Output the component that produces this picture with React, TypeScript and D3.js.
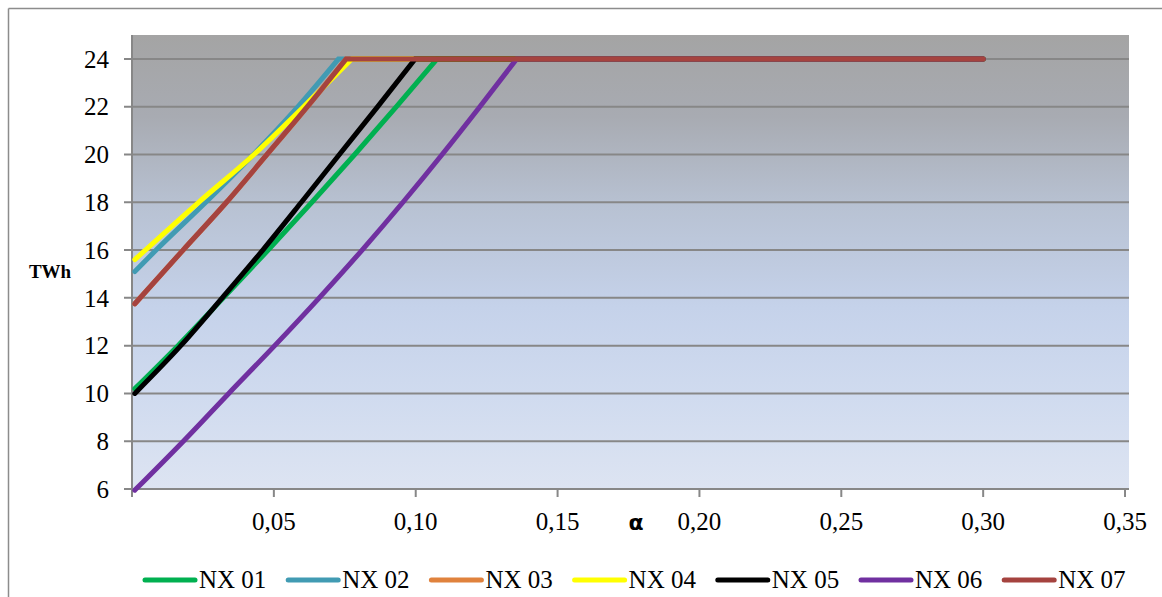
import React from "react";
import * as d3 from "d3";

const seriesNames = ["NX 01", "NX 02", "NX 03", "NX 04", "NX 05", "NX 06", "NX 07"];
const seriesColors = ["#00B050", "#419BB3", "#E0823D", "#FFFF00", "#000000", "#7030A0", "#A5433F"];

// alpha values and TWh values per series (rising part up to saturation at 24)
const nx01Alpha = [0.001, 0.0162, 0.0322, 0.048, 0.0634, 0.0785, 0.0932, 0.1075];
const nx01TWh = [10.2, 12, 14, 16, 18, 20, 22, 24];
const nx02Alpha = [0.001, 0.0085, 0.026, 0.0428, 0.0585, 0.0728];
const nx02TWh = [15.1, 16, 18, 20, 22, 24];
const nx03Alpha = [0.001, 0.018, 0.0333, 0.0476, 0.0618, 0.0755];
const nx03TWh = [13.75, 16, 18, 20, 22, 24];
const nx04Alpha = [0.001, 0.0235, 0.043, 0.0605, 0.0775];
const nx04TWh = [15.6, 18, 20, 22, 24];
const nx05Alpha = [0.001, 0.0172, 0.0318, 0.0461, 0.0597, 0.0731, 0.0866, 0.0998];
const nx05TWh = [10.0, 12, 14, 16, 18, 20, 22, 24];
const nx06Alpha = [0.001, 0.0181, 0.0341, 0.0503, 0.066, 0.0811, 0.0955, 0.1093, 0.1226, 0.1356];
const nx06TWh = [5.95, 8, 10, 12, 14, 16, 18, 20, 22, 24];
const nx07Alpha = [0.001, 0.018, 0.0333, 0.0476, 0.0618, 0.0755];
const nx07TWh = [13.75, 16, 18, 20, 22, 24];
// every series stays at the cap until this alpha
const capAlpha = 0.30;
const capTWh = 24;

const xTicks = [0.05, 0.10, 0.15, 0.20, 0.25, 0.30, 0.35];
const yTicks = [6, 8, 10, 12, 14, 16, 18, 20, 22, 24];

const allAlpha = [nx01Alpha, nx02Alpha, nx03Alpha, nx04Alpha, nx05Alpha, nx06Alpha, nx07Alpha];
const allTWh = [nx01TWh, nx02TWh, nx03TWh, nx04TWh, nx05TWh, nx06TWh, nx07TWh];

const W = 1162;
const H = 597;
const plot = { left: 132, right: 1129, top: 35, bottom: 489 };
const serif = "Liberation Serif, Times New Roman, serif";

export default function App() {
  const x = d3.scaleLinear().domain([0, 0.3514]).range([plot.left, plot.right]);
  const y = d3.scaleLinear().domain([6, 25]).range([plot.bottom, plot.top]);
  const rising = d3
    .line<[number, number]>()
    .x((d) => x(d[0]))
    .y((d) => y(d[1]))
    .curve(d3.curveMonotoneX);
  const fmt = (v: number) => d3.format(".2f")(v).replace(".", ",");
  const legendStart = 143;
  const legendStep = 143.2;

  return (
    <svg
      width={W}
      height={H}
      style={{ position: "absolute", left: 0, top: 0 }}
      xmlns="http://www.w3.org/2000/svg"
    >
      <defs>
        <linearGradient id="bg" x1="0" y1="0" x2="0" y2="1">
          <stop offset="0%" stopColor="#a4a4a4" />
          <stop offset="18%" stopColor="#a8abb2" />
          <stop offset="38%" stopColor="#b8c2d3" />
          <stop offset="60%" stopColor="#c5d2ea" />
          <stop offset="80%" stopColor="#d0dbef" />
          <stop offset="100%" stopColor="#dde4f2" />
        </linearGradient>
      </defs>
      <rect x={0} y={0} width={W} height={H} fill="#ffffff" />
      {/* outer frame */}
      <line x1={8.5} y1={8.5} x2={W} y2={8.5} stroke="#8c8c8c" strokeWidth={1.5} />
      <line x1={8.5} y1={8.5} x2={8.5} y2={H} stroke="#8c8c8c" strokeWidth={1.5} />

      {/* plot area */}
      <rect
        x={plot.left}
        y={plot.top}
        width={plot.right - plot.left}
        height={plot.bottom - plot.top}
        fill="url(#bg)"
      />
      {/* gridlines */}
      {yTicks.map((t) => (
        <line
          key={"g" + t}
          x1={plot.left - 8}
          x2={plot.right}
          y1={y(t)}
          y2={y(t)}
          stroke="#878787"
          strokeWidth={2}
        />
      ))}
      {/* y axis line */}
      <line x1={plot.left} x2={plot.left} y1={plot.top} y2={plot.bottom + 8} stroke="#878787" strokeWidth={2} />
      {/* x ticks */}
      {xTicks.map((t) => (
        <line key={"xt" + t} x1={x(t)} x2={x(t)} y1={plot.bottom} y2={plot.bottom + 8} stroke="#878787" strokeWidth={2} />
      ))}
      {/* y labels */}
      {yTicks.map((t) => (
        <text
          key={"yl" + t}
          x={109}
          y={y(t)}
          dy="0.35em"
          textAnchor="end"
          fontFamily={serif}
          fontSize={25}
          fill="#000"
        >
          {t}
        </text>
      ))}
      {/* x labels */}
      {xTicks.map((t) => (
        <text
          key={"xl" + t}
          x={x(t)}
          y={530}
          textAnchor="middle"
          fontFamily={serif}
          fontSize={25}
          fill="#000"
        >
          {fmt(t)}
        </text>
      ))}
      {/* axis titles */}
      <text x={50} y={278} textAnchor="middle" fontFamily={serif} fontWeight="bold" fontSize={19}>
        TWh
      </text>
      <text x={636} y={530} textAnchor="middle" fontFamily="DejaVu Sans, sans-serif" fontWeight="bold" fontSize={22}>
        α
      </text>

      {/* series */}
      {seriesNames.map((name, i) => {
        const pts: [number, number][] = allAlpha[i].map((a, j) => [a, allTWh[i][j]]);
        const d = (rising(pts) || "") + `L${x(capAlpha)},${y(capTWh)}`;
        return (
          <path
            key={name}
            d={d}
            fill="none"
            stroke={seriesColors[i]}
            strokeWidth={5}
            strokeLinecap="round"
            strokeLinejoin="miter"
          />
        );
      })}

      {/* legend */}
      {seriesNames.map((name, i) => {
        const lx = legendStart + i * legendStep;
        return (
          <g key={"lg" + name}>
            <line
              x1={lx + 2}
              x2={lx + 52}
              y1={580}
              y2={580}
              stroke={seriesColors[i]}
              strokeWidth={5}
              strokeLinecap="round"
            />
            <text x={lx + 56} y={588} fontFamily={serif} fontSize={25} fill="#000">
              {name}
            </text>
          </g>
        );
      })}
    </svg>
  );
}
